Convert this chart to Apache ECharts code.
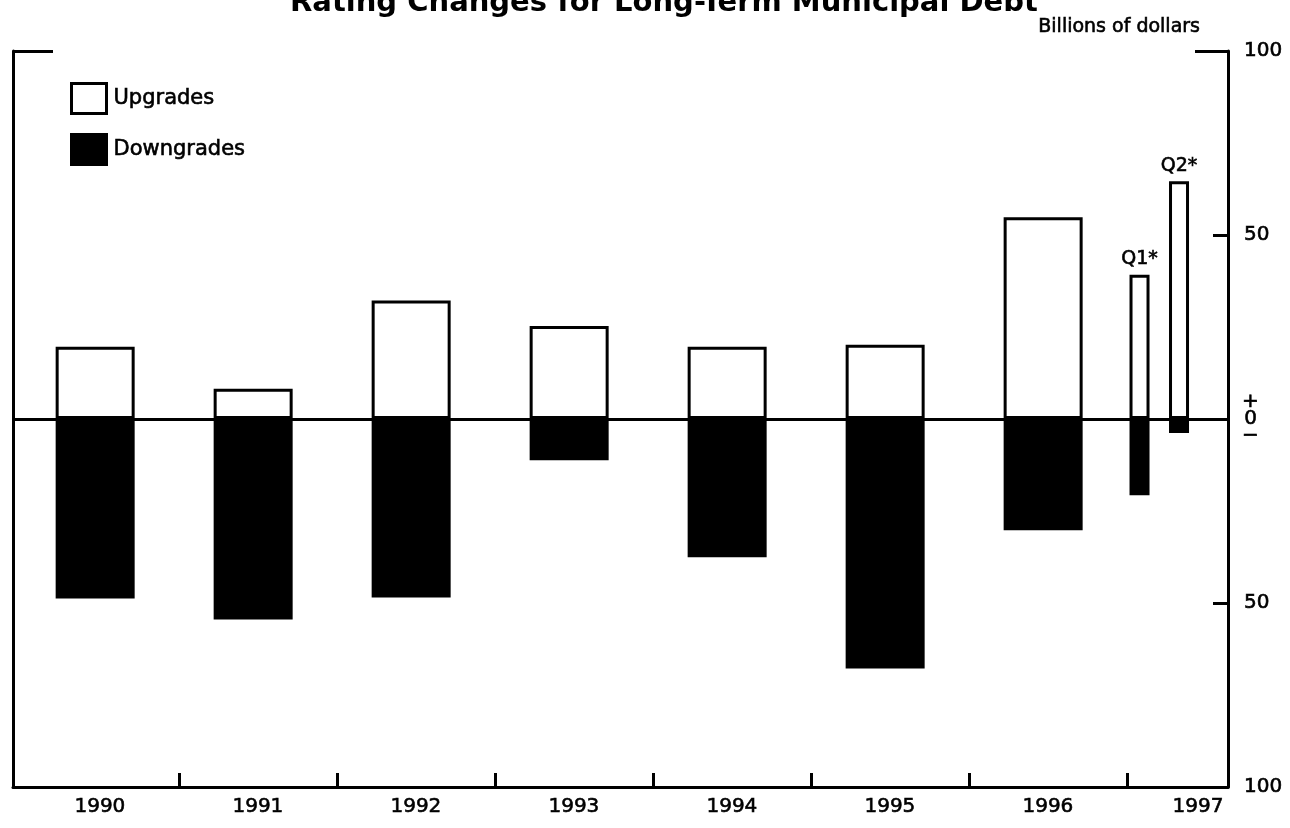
<!DOCTYPE html>
<html><head><meta charset="utf-8">
<script src="https://cdn.jsdelivr.net/npm/echarts@6/dist/echarts.min.js"></script>
<style>html,body{margin:0;padding:0;background:#fff}#c{width:1290px;height:828px}</style>
</head><body><div id="c"></div>
<script>
// ---- data (billions of dollars) ----
const years = ['1990', '1991', '1992', '1993', '1994', '1995', '1996'];
const upgrades = [19.6, 8.2, 32.2, 25.3, 19.6, 20.2, 54.8];
const downgrades = [48.8, 54.5, 48.5, 11.2, 37.6, 67.8, 30.2];
const quarterYear = '1997';
const quarters = ['Q1*', 'Q2*'];
const quarterUpgrades = [39.2, 64.6];
const quarterDowngrades = [20.7, 3.8];
const xTickLabels = ['1990', '1991', '1992', '1993', '1994', '1995', '1996', '1997'];
const yTickValues = [-100, -50, 0, 50, 100];

const FONT = 'DejaVu Sans';
const INK = {color: '#000', textBorderColor: '#000', textBorderWidth: 0.6};
const yearX = years.map(y => Number(y) + 0.47);
const quarterX = quarters.map((q, i) => Number(quarterYear) + i * 0.25 + 0.08);
const lastIdx = xTickLabels.length - 1;
const labelX = xTickLabels.map((y, i) => Number(y) + (i === lastIdx ? 0.45 : 0.5));
const tickX = xTickLabels.slice(1).map(Number);

const chart = echarts.init(document.getElementById('c'), null, {renderer: 'canvas'});
const xBase = {
  type: 'value', min: 1989.95, max: 1997.64, splitLine: {show: false}
};
chart.setOption({
  backgroundColor: '#fff',
  animation: false,
  graphic: [{
    type: 'text', left: 290, top: -11,
    style: {text: 'Rating Changes for Long-Term Municipal Debt', font: 'bold 29px "DejaVu Sans"', fill: '#000'}
  }],
  legend: {
    data: ['Upgrades', 'Downgrades'], orient: 'vertical', left: 70, top: 82,
    icon: 'rect',
    itemWidth: 35, itemHeight: 30, itemGap: 18, padding: 0,
    itemStyle: {borderWidth: 3},
    textStyle: Object.assign({fontFamily: FONT, fontSize: 21, padding: [0, 0, 0, 2]}, INK)
  },
  grid: {left: 13, right: 62, top: 51, bottom: 41, containLabel: false, outerBoundsMode: 'none'},
  xAxis: [
    Object.assign({}, xBase, {
      position: 'bottom',
      axisLine: {show: true, onZero: false, lineStyle: {color: '#000', width: 3}},
      axisTick: {show: true, inside: true, length: 14, customValues: tickX, lineStyle: {color: '#000', width: 3}},
      axisLabel: Object.assign({show: true, customValues: labelX, margin: 10, fontFamily: FONT, fontSize: 20,
        formatter: v => String(Math.floor(v))}, INK)
    }),
    Object.assign({}, xBase, {show: false})
  ],
  yAxis: [
    {
      type: 'value', position: 'right', min: -100, max: 100, interval: 50,
      name: 'Billions of dollars', nameLocation: 'end', nameGap: 24,
      nameTextStyle: Object.assign({fontFamily: FONT, fontSize: 19, align: 'right', verticalAlign: 'middle', padding: [0, 28, 0, 0]}, INK),
      splitLine: {show: false},
      axisLine: {show: true, onZero: false, lineStyle: {color: '#000', width: 3}},
      axisTick: {show: true, inside: true, length: 15, customValues: [-50, 50], lineStyle: {color: '#000', width: 3}},
      axisLabel: Object.assign({
        show: true, customValues: yTickValues, margin: 16, fontFamily: FONT, fontSize: 20,
        formatter: v => v === 0 ? '{z|+}\n{z|0}\n{z|\u2212}' : String(Math.abs(v)),
        rich: {z: Object.assign({fontFamily: FONT, fontSize: 20, width: 13, align: 'center', lineHeight: 17}, INK)}
      }, INK)
    },
    {
      type: 'value', position: 'left', min: -100, max: 100, interval: 50,
      splitLine: {show: false},
      axisLine: {show: true, onZero: false, lineStyle: {color: '#000', width: 3}},
      axisTick: {show: true, inside: true, length: 40, customValues: [100], lineStyle: {color: '#000', width: 3}},
      axisLabel: {show: false}
    },
    {
      type: 'value', position: 'right', min: -100, max: 100, interval: 50,
      splitLine: {show: false},
      axisLine: {show: false},
      axisTick: {show: true, inside: true, length: 33, customValues: [100], lineStyle: {color: '#000', width: 3}},
      axisLabel: {show: false}
    }
  ],
  series: [
    {
      name: 'Upgrades', type: 'bar', xAxisIndex: 0, yAxisIndex: 0, stack: 'yr', barWidth: 79,
      data: years.map((y, i) => [yearX[i], upgrades[i]]),
      itemStyle: {color: '#fff', borderColor: '#000', borderWidth: 3},
      markLine: {
        silent: true, symbol: 'none', label: {show: false}, z: 10,
        lineStyle: {color: '#000', width: 3, type: 'solid'},
        data: [{yAxis: 0}]
      }
    },
    {
      name: 'Downgrades', type: 'bar', xAxisIndex: 0, yAxisIndex: 0, stack: 'yr', barWidth: 79,
      data: years.map((y, i) => [yearX[i], -downgrades[i]]),
      itemStyle: {color: '#000', borderColor: '#000', borderWidth: 3}
    },
    {
      name: 'Upgrades', type: 'bar', xAxisIndex: 1, yAxisIndex: 0, stack: 'qt', barWidth: 20,
      data: quarters.map((q, i) => [quarterX[i], quarterUpgrades[i]]),
      itemStyle: {color: '#fff', borderColor: '#000', borderWidth: 3},
      label: Object.assign({show: true, position: 'top', distance: 6, fontFamily: FONT, fontSize: 19,
        formatter: p => quarters[p.dataIndex]}, INK)
    },
    {
      name: 'Downgrades', type: 'bar', xAxisIndex: 1, yAxisIndex: 0, stack: 'qt', barWidth: 20,
      data: quarters.map((q, i) => [quarterX[i], -quarterDowngrades[i]]),
      itemStyle: {color: '#000', borderColor: '#000', borderWidth: 3}
    }
  ]
});
</script></body></html>
